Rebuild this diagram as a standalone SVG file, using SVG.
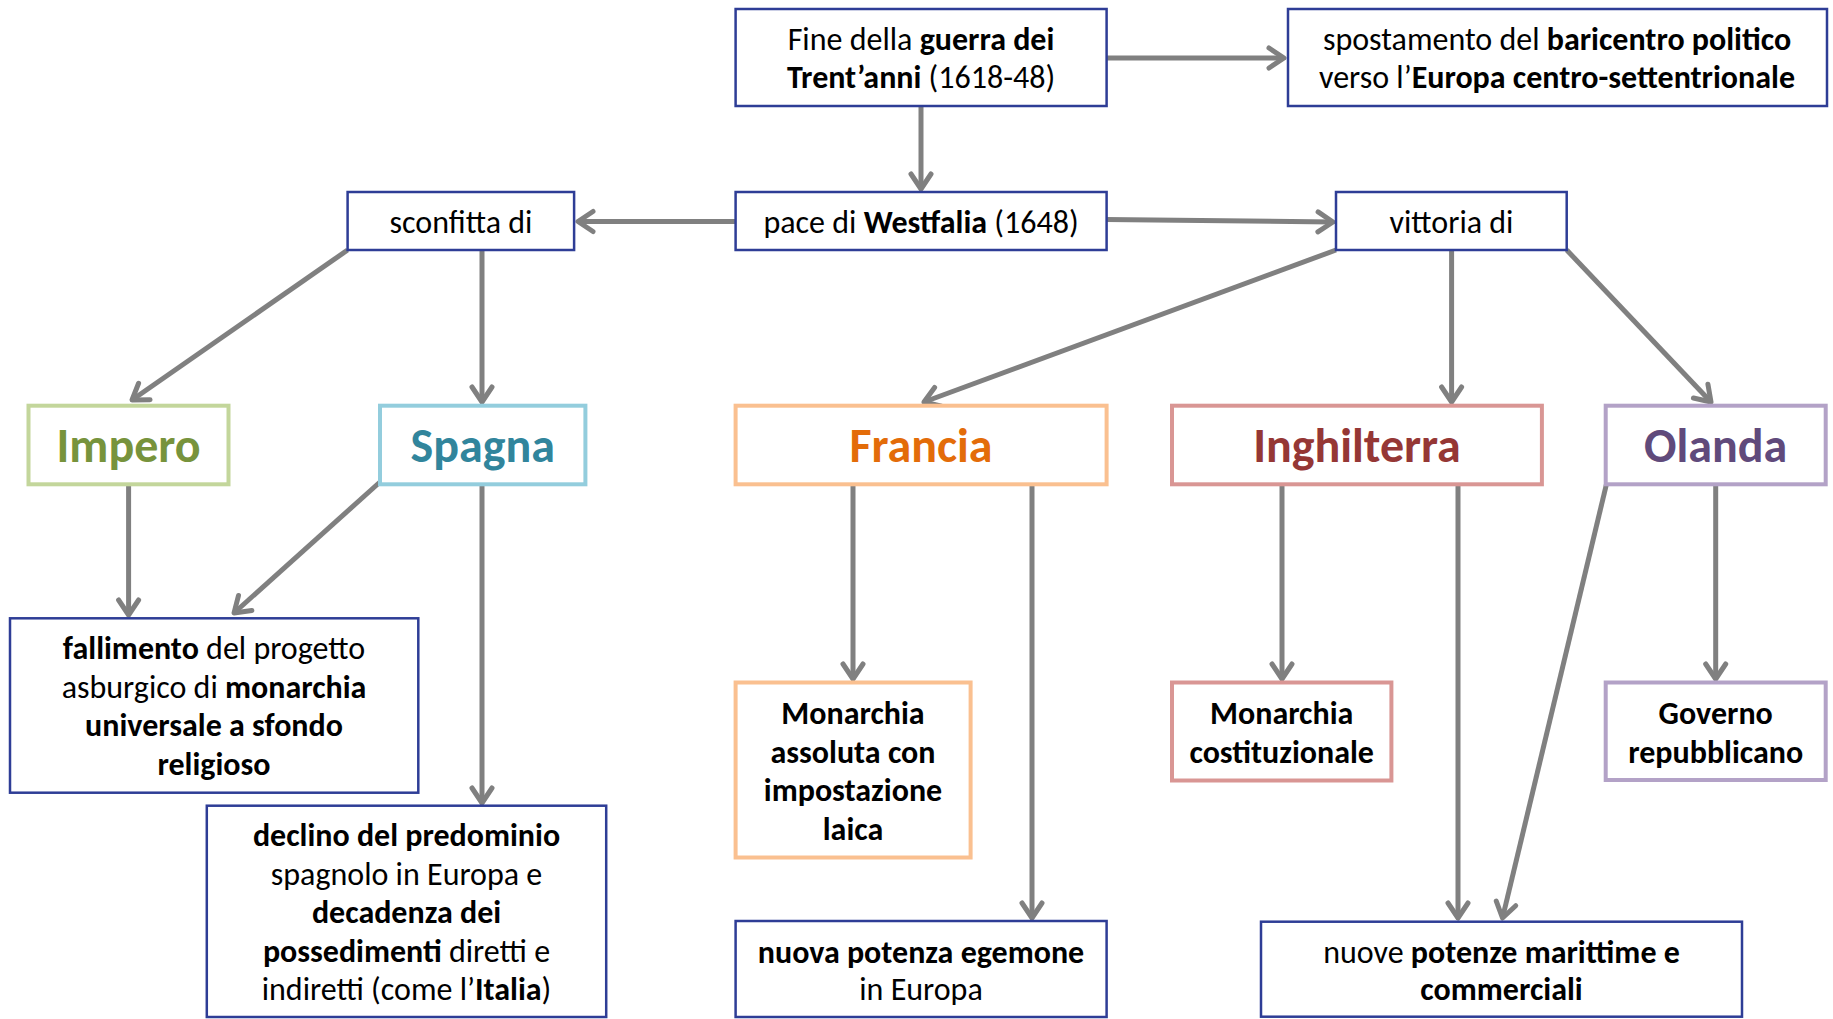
<svg xmlns="http://www.w3.org/2000/svg" width="1833" height="1019" viewBox="0 0 1833 1019">
<style>
  text { font-family: Carlito, Lato, "Liberation Sans", sans-serif; fill: #000; text-anchor: middle; }
  .t { font-size: 32px; }
  .b { font-weight: bold; }
  .big { font-size: 48px; font-weight: bold; }
  .blue { fill: #fff; stroke: #2E3D96; stroke-width: 2.5; }
  .c { fill: none; stroke: #808080; stroke-width: 5; marker-end: url(#ah); }
</style>
<defs>
  <marker id="ah" markerUnits="userSpaceOnUse" markerWidth="40" markerHeight="40" viewBox="-20 -20 40 40" refX="0" refY="0" orient="auto" overflow="visible">
    <path d="M-15,-10 L0,0 L-15,10" fill="none" stroke="#808080" stroke-width="5" stroke-linecap="round" stroke-linejoin="round"/>
  </marker>
</defs>
<rect width="1833" height="1019" fill="#fff"/>

<g id="connectors">
  <line class="c" x1="1106" y1="58" x2="1284" y2="58"/>
  <line class="c" x1="921" y1="106" x2="921" y2="189"/>
  <line class="c" x1="735" y1="221.5" x2="578" y2="221.5"/>
  <line class="c" x1="1106" y1="219.5" x2="1333" y2="222"/>
  <line class="c" x1="347.6" y1="250" x2="132" y2="400"/>
  <line class="c" x1="482" y1="250" x2="482" y2="402"/>
  <line class="c" x1="1336" y1="250" x2="924" y2="402"/>
  <line class="c" x1="1451.6" y1="250" x2="1451.6" y2="402"/>
  <line class="c" x1="1566.7" y1="250" x2="1711" y2="402"/>
  <line class="c" x1="128.6" y1="484" x2="128.6" y2="615"/>
  <line class="c" x1="380" y1="482" x2="234" y2="613"/>
  <line class="c" x1="482" y1="484" x2="482" y2="803"/>
  <line class="c" x1="853" y1="484" x2="853" y2="679"/>
  <line class="c" x1="1032" y1="484" x2="1032" y2="918"/>
  <line class="c" x1="1282" y1="484" x2="1282" y2="679"/>
  <line class="c" x1="1458" y1="484" x2="1458" y2="918"/>
  <line class="c" x1="1606.5" y1="484" x2="1502.5" y2="918"/>
  <line class="c" x1="1715.7" y1="484" x2="1715.7" y2="679"/>
</g>

<g id="n-fine">
  <rect class="blue" x="735.6" y="9" width="371" height="97"/>
  <text class="t" x="921" y="50">Fine della <tspan class="b">guerra dei</tspan></text>
  <text class="t" x="921" y="88"><tspan class="b">Trent’anni</tspan> (1618-48)</text>
</g>
<g id="n-spostamento">
  <rect class="blue" x="1288" y="9" width="539" height="97"/>
  <text class="t" x="1557" y="50">spostamento del <tspan class="b">baricentro politico</tspan></text>
  <text class="t" x="1557" y="88">verso l’<tspan class="b">Europa centro-settentrionale</tspan></text>
</g>
<g id="n-pace">
  <rect class="blue" x="735.6" y="192" width="371" height="58"/>
  <text class="t" x="921" y="233">pace di <tspan class="b">Westfalia</tspan> (1648)</text>
</g>
<g id="n-sconfitta">
  <rect class="blue" x="347.6" y="192" width="226.5" height="58"/>
  <text class="t" x="461" y="233">sconfitta di</text>
</g>
<g id="n-vittoria">
  <rect class="blue" x="1336" y="192" width="230.7" height="58"/>
  <text class="t" x="1451.5" y="233">vittoria di</text>
</g>

<g id="n-impero">
  <rect x="28.5" y="405.7" width="200" height="78.6" fill="#fff" stroke="#C3D69B" stroke-width="4"/>
  <text class="big" x="128.6" y="462" style="fill:#77933C">Impero</text>
</g>
<g id="n-spagna">
  <rect x="380" y="405.7" width="205.4" height="78.6" fill="#fff" stroke="#93CDDD" stroke-width="4"/>
  <text class="big" x="482.7" y="462" style="fill:#31859C">Spagna</text>
</g>
<g id="n-francia">
  <rect x="735.6" y="405.7" width="371" height="78.6" fill="#fff" stroke="#FAC090" stroke-width="4"/>
  <text class="big" x="921" y="462" style="fill:#E36C09">Francia</text>
</g>
<g id="n-inghilterra">
  <rect x="1172" y="405.7" width="369.9" height="78.6" fill="#fff" stroke="#D99694" stroke-width="4"/>
  <text class="big" x="1357" y="462" style="fill:#953735">Inghilterra</text>
</g>
<g id="n-olanda">
  <rect x="1605.7" y="405.7" width="220" height="78.6" fill="#fff" stroke="#B3A2C7" stroke-width="4"/>
  <text class="big" x="1715.7" y="462" style="fill:#604A7B">Olanda</text>
</g>

<g id="n-fallimento">
  <rect class="blue" x="10" y="618.3" width="408.3" height="174.4"/>
  <text class="t" x="214" y="659"><tspan class="b">fallimento</tspan> del progetto</text>
  <text class="t" x="214" y="697.5">asburgico di <tspan class="b">monarchia</tspan></text>
  <text class="t b" x="214" y="736">universale a sfondo</text>
  <text class="t b" x="214" y="774.5">religioso</text>
</g>
<g id="n-declino">
  <rect class="blue" x="206.8" y="805.7" width="399.4" height="211.3"/>
  <text class="t b" x="406.5" y="846">declino del predominio</text>
  <text class="t" x="406.5" y="884.5">spagnolo in Europa e</text>
  <text class="t b" x="406.5" y="923">decadenza dei</text>
  <text class="t" x="406.5" y="961.5"><tspan class="b">possedimenti</tspan> diretti e</text>
  <text class="t" x="406.5" y="1000">indiretti (come l’<tspan class="b">Italia</tspan>)</text>
</g>
<g id="n-assoluta">
  <rect x="735.6" y="682.5" width="235" height="175" fill="#fff" stroke="#FAC090" stroke-width="4"/>
  <text class="t b" x="853" y="724">Monarchia</text>
  <text class="t b" x="853" y="762.5">assoluta con</text>
  <text class="t b" x="853" y="801">impostazione</text>
  <text class="t b" x="853" y="839.5">laica</text>
</g>
<g id="n-costituzionale">
  <rect x="1172" y="682.5" width="219.4" height="98" fill="#fff" stroke="#D99694" stroke-width="4"/>
  <text class="t b" x="1281.7" y="724">Monarchia</text>
  <text class="t b" x="1281.7" y="762.5">costituzionale</text>
</g>
<g id="n-governo">
  <rect x="1605.7" y="682.5" width="220" height="97.5" fill="#fff" stroke="#B3A2C7" stroke-width="4"/>
  <text class="t b" x="1715.7" y="724">Governo</text>
  <text class="t b" x="1715.7" y="762.5">repubblicano</text>
</g>
<g id="n-egemone">
  <rect class="blue" x="735.6" y="921" width="371" height="96"/>
  <text class="t" x="921" y="962.5"><tspan class="b">nuova potenza egemone</tspan></text>
  <text class="t" x="921" y="1000">in Europa</text>
</g>
<g id="n-marittime">
  <rect class="blue" x="1261" y="921.7" width="481" height="95"/>
  <text class="t" x="1501.5" y="962.5">nuove <tspan class="b">potenze marittime e</tspan></text>
  <text class="t b" x="1501.5" y="1000">commerciali</text>
</g>
</svg>
